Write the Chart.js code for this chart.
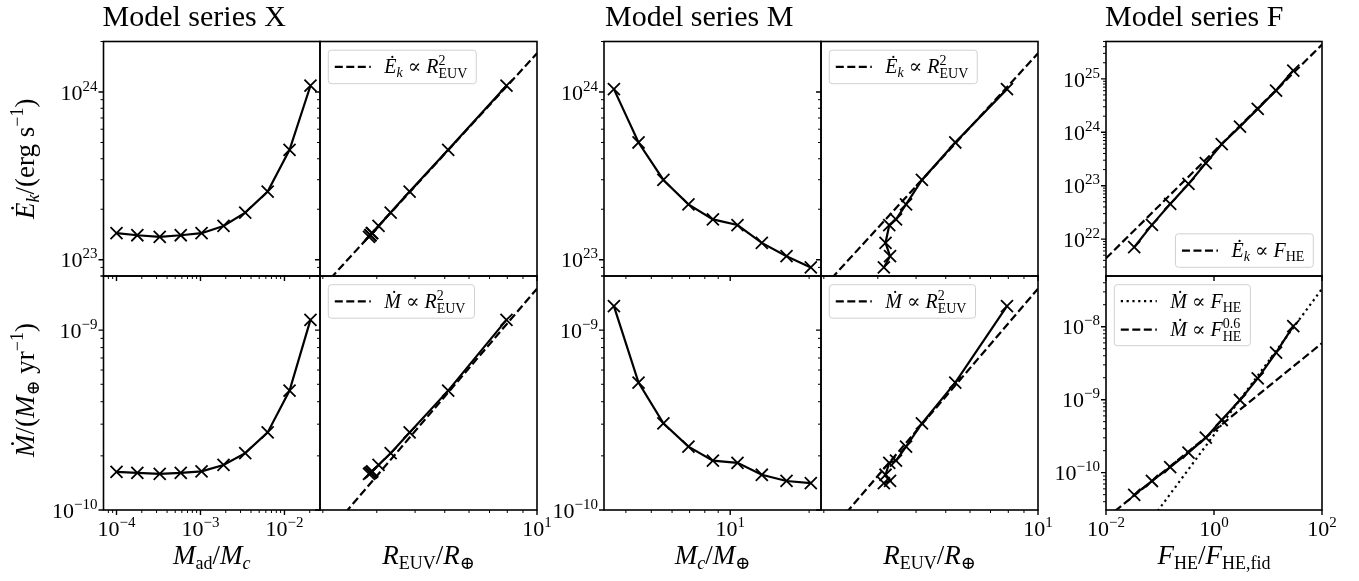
<!DOCTYPE html>
<html><head><meta charset="utf-8">
<script src="https://cdn.jsdelivr.net/npm/chart.js@4.4.1/dist/chart.umd.min.js"></script>
<style>
html,body{margin:0;padding:0;background:#fff;width:1359px;height:581px;overflow:hidden;}
#wrap{position:relative;width:1359px;height:581px;background:#fff;}
#wrap canvas{position:absolute;left:0;top:0;}
</style></head><body><div id="wrap"></div>
<script>
// ---------------- data ----------------
// Model series X
const xMassRatio = [1.0e-4, 1.77e-4, 3.27e-4, 5.82e-4, 1.03e-3, 1.88e-3, 3.41e-3, 6.31e-3, 1.15e-2, 2.04e-2];
const xEk        = [1.44e23, 1.40e23, 1.37e23, 1.40e23, 1.44e23, 1.59e23, 1.91e23, 2.55e23, 4.52e23, 1.09e24];
const xMdot      = [1.63e-10, 1.61e-10, 1.59e-10, 1.61e-10, 1.64e-10, 1.78e-10, 2.07e-10, 2.70e-10, 4.61e-10, 1.14e-9];
const xReuv      = [2.89, 2.86, 2.83, 2.86, 2.90, 3.04, 3.33, 3.84, 5.13, 7.95];
// Model series M
const mCoreMass  = [3.60, 4.47, 5.56, 6.93, 8.59, 10.66, 13.2, 16.4, 20.3];
const mEk        = [1.04e24, 5.00e23, 2.99e23, 2.14e23, 1.74e23, 1.61e23, 1.26e23, 1.05e23, 9.0e22];
const mMdot      = [1.36e-9, 5.11e-10, 3.03e-10, 2.25e-10, 1.88e-10, 1.83e-10, 1.57e-10, 1.45e-10, 1.41e-10];
const mReuv      = [7.92, 5.37, 4.18, 3.71, 3.44, 3.27, 3.18, 3.29, 3.14];
// Model series F
const fFlux      = [0.0333, 0.0708, 0.1545, 0.337, 0.705, 1.39, 3.03, 6.45, 14.1, 29.4];
const fEk        = [7.05e21, 1.85e22, 4.56e22, 1.08e23, 2.64e23, 5.98e23, 1.28e24, 2.74e24, 6.04e24, 1.43e25];
const fMdot      = [4.95e-11, 7.69e-11, 1.19e-10, 1.88e-10, 3.02e-10, 5.27e-10, 9.9e-10, 1.96e-9, 4.41e-9, 1.02e-8];
// reference power laws (end points)
const fitReuv       = [2.0, 10.0];
const fitEkReuv     = [6.9e22, 1.70e24];
const fitMdotReuv   = [6.9e-11, 1.70e-9];
const fitFlux       = [0.01, 100];
const fitEkFlux     = [4.37e21, 4.37e25];
const fitMdotFlux   = [3.3e-12, 3.3e-8];
const fitMdotFlux06 = [2.37e-11, 5.94e-9];
// tick labels (powers of ten)
const massRatioTicks = [-4, -3, -2];
const coreMassTicks  = [1];
const reuvTicks      = [1];
const fluxTicks      = [-2, 0, 2];
const ekTicks        = [23, 24];
const mdotTicks      = [-10, -9];
const fEkTicks       = [22, 23, 24, 25];
const fMdotTicks     = [-10, -9, -8];
// titles
const titles = ['Model series X', 'Model series M', 'Model series F'];

// ---------------- text helpers ----------------
const W = 1359, H = 581;
const SERIF = "'Liberation Serif','DejaVu Serif',serif";
function fontOf(r, base){ return (r.i ? 'italic ' : '') + (r.s || base) + 'px ' + SERIF; }
function layoutRuns(ctx, runs, base){
  let x = 0, prevW = 0; const items = [];
  for (const r of runs){
    ctx.font = fontOf(r, base);
    const w = ctx.measureText(r.t).width;
    if (r.stack){
      const sx = x - prevW;
      items.push({r, x: sx});
      x = sx + Math.max(prevW, w); prevW = Math.max(prevW, w);
    } else {
      x += (r.kx || 0);
      items.push({r, x});
      x += w; prevW = w;
    }
  }
  return {items, w: x};
}
function drawRuns(ctx, runs, x, y, base, align){
  const L = layoutRuns(ctx, runs, base);
  const x0 = align === 'center' ? x - L.w/2 : align === 'right' ? x - L.w : x;
  ctx.textBaseline = 'alphabetic'; ctx.textAlign = 'left'; ctx.fillStyle = '#000';
  for (const it of L.items){ ctx.font = fontOf(it.r, base); ctx.fillText(it.r.t, x0 + it.x, y + (it.r.dy || 0)); }
  return L.w;
}
const SUB = 18, SB = 5, SP = -11;
const lblEk   = [{t:'E\u0307', i:1}, {t:'k', i:1, s:SUB, dy:SB}, {t:'/(erg s'}, {t:'\u22121', s:SUB, dy:SP}, {t:')'}];
const lblMdot = [{t:'M\u0307', i:1}, {t:'/('}, {t:'M', i:1}, {t:'\u2295', s:SUB, dy:SB}, {t:' yr'}, {t:'\u22121', s:SUB, dy:SP}, {t:')'}];
const lblMad  = [{t:'M', i:1}, {t:'ad', s:SUB, dy:SB}, {t:'/'}, {t:'M', i:1}, {t:'c', i:1, s:SUB, dy:SB}];
const lblReuv = [{t:'R', i:1}, {t:'EUV', s:SUB, dy:SB}, {t:'/'}, {t:'R', i:1}, {t:'\u2295', s:SUB, dy:SB}];
const lblMc   = [{t:'M', i:1}, {t:'c', i:1, s:SUB, dy:SB}, {t:'/'}, {t:'M', i:1}, {t:'\u2295', s:SUB, dy:SB}];
const lblF    = [{t:'F', i:1}, {t:'HE', s:SUB, dy:SB}, {t:'/'}, {t:'F', i:1}, {t:'HE,fid', s:SUB, dy:SB}];
const LS = 14;
const legEkR   = [{t:'E\u0307', i:1}, {t:'k', i:1, s:LS, dy:4}, {t:' \u221D '}, {t:'R', i:1}, {t:'2', s:LS, dy:-8}, {t:'EUV', s:LS, dy:5, stack:1}];
const legMdR   = [{t:'M\u0307', i:1}, {t:' \u221D '}, {t:'R', i:1}, {t:'2', s:LS, dy:-8}, {t:'EUV', s:LS, dy:5, stack:1}];
const legEkF   = [{t:'E\u0307', i:1}, {t:'k', i:1, s:LS, dy:4}, {t:' \u221D '}, {t:'F', i:1}, {t:'HE', s:LS, dy:4}];
const legMdF   = [{t:'M\u0307', i:1}, {t:' \u221D '}, {t:'F', i:1}, {t:'HE', s:LS, dy:4}];
const legMdF06 = [{t:'M\u0307', i:1}, {t:' \u221D '}, {t:'F', i:1}, {t:'0.6', s:LS, dy:-8}, {t:'HE', s:LS, dy:5, stack:1}];
function tickRuns(e){ return [{t:'10'}, {t:(e < 0 ? '\u2212' + (-e) : String(e)), s:15, dy:-9}]; }

// ---------------- layout ----------------
const COLS = {xl:[103.5,320], xr:[320,537], ml:[604,821], mr:[821,1038], f:[1106,1322]};
const ROWS = {top:[41.5,276], bot:[276,510]};
const DASH = [8, 3.5], DOT = [2.2, 3.6];
function pts(xs, ys){ return xs.map((v, i) => ({x: v, y: ys[i]})); }
function dataSet(xs, ys){
  return {data: pts(xs, ys), showLine: true, borderColor: '#000', borderWidth: 2.2, tension: 0,
    pointStyle: 'crossRot', pointRadius: 8.5, pointBorderWidth: 1.8, pointBorderColor: '#000',
    pointBackgroundColor: 'rgba(0,0,0,0)', pointHoverRadius: 8.5};
}
function fitSet(xs, ys, dash){
  return {data: pts(xs, ys), showLine: true, borderColor: '#000', borderWidth: 2.2, borderDash: dash,
    pointRadius: 0, pointHoverRadius: 0, tension: 0};
}

const panels = [
  {col:'xl', row:'top', xr:[7.48e-5, 2.65e-2], yr:[8.0e22, 2.0e24], xt:massRatioTicks, yt:ekTicks, xl:false, yl:true,
   ds:[dataSet(xMassRatio, xEk)]},
  {col:'xl', row:'bot', xr:[7.48e-5, 2.65e-2], yr:[1e-10, 2.0e-9], xt:massRatioTicks, yt:mdotTicks, xl:true, yl:true,
   ds:[dataSet(xMassRatio, xMdot)]},
  {col:'xr', row:'top', xr:[1.958, 10], yr:[8.0e22, 2.0e24], xt:reuvTicks, yt:ekTicks, xl:false, yl:false,
   ds:[dataSet(xReuv, xEk), fitSet(fitReuv, fitEkReuv, DASH)], leg:{loc:'ul', entries:[{d:DASH, r:legEkR}]}},
  {col:'xr', row:'bot', xr:[1.958, 10], yr:[1e-10, 2.0e-9], xt:reuvTicks, yt:mdotTicks, xl:true, yl:false,
   ds:[dataSet(xReuv, xMdot), fitSet(fitReuv, fitMdotReuv, DASH)], leg:{loc:'ul', entries:[{d:DASH, r:legMdR}]}},
  {col:'ml', row:'top', xr:[3.30, 22.2], yr:[8.0e22, 2.0e24], xt:coreMassTicks, yt:ekTicks, xl:false, yl:true,
   ds:[dataSet(mCoreMass, mEk)]},
  {col:'ml', row:'bot', xr:[3.30, 22.2], yr:[1e-10, 2.0e-9], xt:coreMassTicks, yt:mdotTicks, xl:true, yl:true,
   ds:[dataSet(mCoreMass, mMdot)]},
  {col:'mr', row:'top', xr:[1.958, 10], yr:[8.0e22, 2.0e24], xt:reuvTicks, yt:ekTicks, xl:false, yl:false,
   ds:[dataSet(mReuv, mEk), fitSet(fitReuv, fitEkReuv, DASH)], leg:{loc:'ul', entries:[{d:DASH, r:legEkR}]}},
  {col:'mr', row:'bot', xr:[1.958, 10], yr:[1e-10, 2.0e-9], xt:reuvTicks, yt:mdotTicks, xl:true, yl:false,
   ds:[dataSet(mReuv, mMdot), fitSet(fitReuv, fitMdotReuv, DASH)], leg:{loc:'ul', entries:[{d:DASH, r:legMdR}]}},
  {col:'f', row:'top', xr:[0.01, 100], yr:[2.04e21, 5.0e25], xt:fluxTicks, yt:fEkTicks, xl:false, yl:true, noXMinor:true,
   ds:[dataSet(fFlux, fEk), fitSet(fitFlux, fitEkFlux, DASH)], leg:{loc:'lr', entries:[{d:DASH, r:legEkF}]}},
  {col:'f', row:'bot', xr:[0.01, 100], yr:[3.08e-11, 4.95e-8], xt:fluxTicks, yt:fMdotTicks, xl:true, yl:true, noXMinor:true,
   ds:[dataSet(fFlux, fMdot), fitSet(fitFlux, fitMdotFlux, DOT), fitSet(fitFlux, fitMdotFlux06, DASH)],
   leg:{loc:'ul', entries:[{d:DOT, r:legMdF}, {d:DASH, r:legMdF06}]}},
];

function minorValues(min, max){
  const out = [];
  for (let e = Math.floor(Math.log10(min)) - 1; e <= Math.ceil(Math.log10(max)); e++)
    for (let k = 2; k <= 9; k++){ const v = k * Math.pow(10, e); if (v >= min && v <= max) out.push(v); }
  return out;
}

function drawLegend(ctx, area, leg){
  const base = 20, entryH = 28.5;
  let tw = 0;
  for (const en of leg.entries) tw = Math.max(tw, layoutRuns(ctx, en.r, base).w);
  const bw = 56 + tw + 9, bh = leg.entries.length === 1 ? 33.5 : 61;
  let bx, by;
  if (leg.loc === 'ul'){ bx = area.left + 8.3; by = area.top + 8.7; }
  else { bx = area.right - 8.7 - bw; by = area.bottom - 8.7 - bh; }
  ctx.save();
  ctx.beginPath();
  const r = 3;
  ctx.moveTo(bx + r, by); ctx.arcTo(bx + bw, by, bx + bw, by + bh, r); ctx.arcTo(bx + bw, by + bh, bx, by + bh, r);
  ctx.arcTo(bx, by + bh, bx, by, r); ctx.arcTo(bx, by, bx + bw, by, r); ctx.closePath();
  ctx.fillStyle = 'rgba(255,255,255,0.8)'; ctx.fill();
  ctx.strokeStyle = '#d0d0d0'; ctx.lineWidth = 1; ctx.stroke();
  leg.entries.forEach((en, i) => {
    const cy = by + (leg.entries.length === 1 ? bh/2 : 16.5 + i * entryH);
    ctx.beginPath(); ctx.setLineDash(en.d); ctx.lineWidth = 2.2; ctx.strokeStyle = '#000';
    ctx.moveTo(bx + 6.5, cy); ctx.lineTo(bx + 42.5, cy); ctx.stroke(); ctx.setLineDash([]);
    drawRuns(ctx, en.r, bx + 56, cy + 6.5, base, 'left');
  });
  ctx.restore();
}

function makeDecor(p, isFirst){
  return {
    id: 'decor',
    afterDraw(chart){
      const ctx = chart.ctx, a = chart.chartArea, xs = chart.scales.x, ys = chart.scales.y;
      ctx.save();
      // ticks (outward, left and bottom)
      ctx.strokeStyle = '#000';
      ctx.lineWidth = 1;
      ctx.beginPath();
      if (!p.noXMinor) for (const v of minorValues(p.xr[0], p.xr[1])){ const px = xs.getPixelForValue(v); ctx.moveTo(px, a.bottom); ctx.lineTo(px, a.bottom + 3); }
      for (const v of minorValues(p.yr[0], p.yr[1])){ const py = ys.getPixelForValue(v); ctx.moveTo(a.left, py); ctx.lineTo(a.left - 3, py); }
      ctx.stroke();
      ctx.lineWidth = 1.4;
      ctx.beginPath();
      for (const e of p.xt){ const px = xs.getPixelForValue(Math.pow(10, e)); ctx.moveTo(px, a.bottom); ctx.lineTo(px, a.bottom + 5); }
      for (const e of p.yt){ const py = ys.getPixelForValue(Math.pow(10, e)); ctx.moveTo(a.left, py); ctx.lineTo(a.left - 5, py); }
      ctx.stroke();
      // spines
      ctx.lineWidth = 1.6;
      ctx.strokeRect(a.left, a.top, a.right - a.left, a.bottom - a.top);
      // tick labels
      if (p.xl) for (const e of p.xt){ const px = xs.getPixelForValue(Math.pow(10, e)); drawRuns(ctx, tickRuns(e), px, a.bottom + 26, 22, 'center'); }
      if (p.yl) for (const e of p.yt){ const py = ys.getPixelForValue(Math.pow(10, e)); drawRuns(ctx, tickRuns(e), a.left - 6, py + 7.7, 22, 'right'); }
      if (p.leg) drawLegend(ctx, a, p.leg);
      if (isFirst){
        // titles
        drawRuns(ctx, [{t:titles[0]}], COLS.xl[0] - 1, 26, 30, 'left');
        drawRuns(ctx, [{t:titles[1]}], COLS.ml[0] + 1, 26, 30, 'left');
        drawRuns(ctx, [{t:titles[2]}], COLS.f[0] - 1, 26, 30, 'left');
        // x-axis labels
        const xb = 564;
        drawRuns(ctx, lblMad,  (COLS.xl[0] + COLS.xl[1]) / 2, xb, 27, 'center');
        drawRuns(ctx, lblReuv, (COLS.xr[0] + COLS.xr[1]) / 2, xb, 27, 'center');
        drawRuns(ctx, lblMc,   (COLS.ml[0] + COLS.ml[1]) / 2, xb, 27, 'center');
        drawRuns(ctx, lblReuv, (COLS.mr[0] + COLS.mr[1]) / 2, xb, 27, 'center');
        drawRuns(ctx, lblF,    (COLS.f[0] + COLS.f[1]) / 2, xb, 27, 'center');
        // y-axis labels
        for (const [runs, row, off] of [[lblEk, ROWS.top, 0], [lblMdot, ROWS.bot, -3]]){
          ctx.save(); ctx.translate(34, (row[0] + row[1]) / 2 + off); ctx.rotate(-Math.PI / 2);
          drawRuns(ctx, runs, 0, 0, 27, 'center'); ctx.restore();
        }
      }
      ctx.restore();
    }
  };
}

const wrap = document.getElementById('wrap');
panels.forEach((p, idx) => {
  const cv = document.createElement('canvas');
  cv.width = W; cv.height = H; cv.style.width = W + 'px'; cv.style.height = H + 'px';
  wrap.appendChild(cv);
  const [L, R] = COLS[p.col], [T, B] = ROWS[p.row];
  new Chart(cv.getContext('2d'), {
    type: 'scatter',
    data: {datasets: p.ds},
    options: {
      responsive: false, animation: false, devicePixelRatio: 1, events: [],
      layout: {padding: {left: L, top: T, right: W - R, bottom: H - B}},
      scales: {
        x: {type: 'logarithmic', display: false, min: p.xr[0], max: p.xr[1]},
        y: {type: 'logarithmic', display: false, min: p.yr[0], max: p.yr[1]}
      },
      plugins: {legend: {display: false}, tooltip: {enabled: false}}
    },
    plugins: [makeDecor(p, idx === 0)]
  });
});
</script></body></html>
